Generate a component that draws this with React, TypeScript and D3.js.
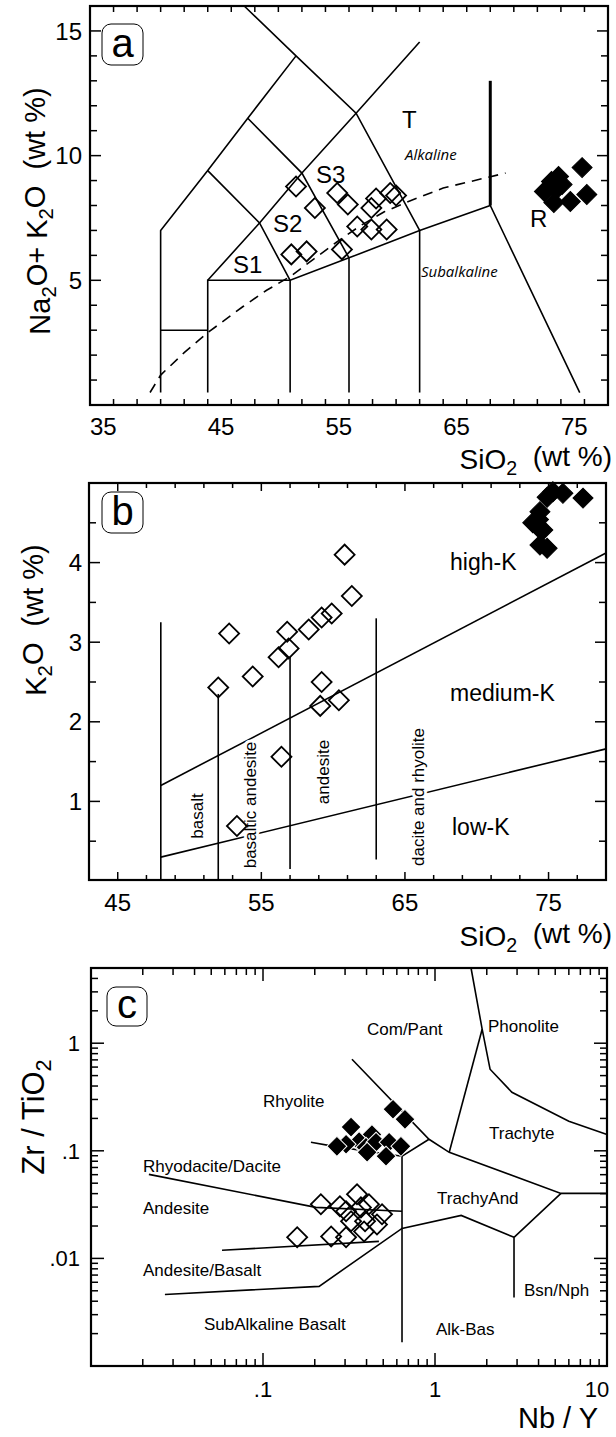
import * as d3 from "d3";

type Pt = [number, number];

const FONT = "'Liberation Sans', Arial, Helvetica, sans-serif";

// ---------- (a) total alkali vs silica ----------
const tasOpen: Pt[] = [
  [52.5, 8.76], [54.1, 7.9], [56.0, 8.5], [56.9, 8.04], [57.7, 7.16],
  [58.9, 7.04], [60.2, 7.04], [59.3, 8.28], [58.9, 7.9], [61.0, 8.4],
  [60.5, 8.5], [53.4, 6.16], [56.4, 6.24], [52.1, 6.04],
];
const tasFilled: Pt[] = [
  [76.8, 9.52], [74.8, 9.16], [74.2, 8.96], [73.6, 8.56], [74.6, 8.64],
  [74.4, 8.12], [75.8, 8.16], [77.2, 8.44], [75.1, 8.84],
];
const tasLines: Pt[][] = [
  [[41, 0.5], [41, 7], [45, 9.4], [48.4, 11.5], [52.5, 14]],
  [[48.1, 16], [52.5, 14], [57.6, 11.7], [63, 7]],
  [[45, 0.5], [45, 5], [52, 5], [57, 5.9], [63, 7], [69, 8], [76.6, 0.5]],
  [[41, 3], [45, 3]],
  [[52, 0.5], [52, 5]],
  [[57, 0.5], [57, 5.9]],
  [[63, 0.5], [63, 7]],
  [[45, 5], [49.4, 7.3], [53, 9.3], [57.6, 11.7], [63, 14.56]],
  [[45, 9.4], [49.4, 7.3], [52, 5]],
  [[48.4, 11.5], [53, 9.3], [57, 5.9]],
];
const tasThick: Pt[] = [[69, 8], [69, 13]];
const tasAlkDivide: Pt[] = [
  [40.1, 0.5], [41, 1.2], [43, 2.1], [45, 2.9], [48, 3.95], [50, 4.6],
  [52, 5.15], [54, 5.85], [56, 6.55], [58, 7.2], [60, 7.75], [62, 8.15],
  [65, 8.7], [70.3, 9.3],
];
const tasXLabels = [35, 45, 55, 65, 75];
const tasYLabels = [5, 10, 15];

// ---------- (b) K2O vs silica ----------
const kOpen: Pt[] = [
  [52.76, 3.11], [52.0, 2.43], [54.4, 2.57], [56.2, 2.81], [56.8, 3.13],
  [56.9, 2.92], [58.3, 3.16], [59.2, 3.31], [59.9, 3.36], [60.8, 4.1],
  [61.3, 3.58], [59.2, 2.5], [59.1, 2.2], [60.4, 2.27], [56.4, 1.56],
  [53.3, 0.69],
];
const kFilled: Pt[] = [
  [75.3, 4.89], [76.0, 4.87], [77.4, 4.81], [74.9, 4.82], [74.4, 4.64],
  [73.9, 4.5], [74.3, 4.44], [74.6, 4.41], [74.4, 4.22], [74.9, 4.18],
  [74.3, 4.54],
];
const kLines: Pt[][] = [
  [[48, 0], [48, 3.25]],
  [[52, 0], [52, 2.35]],
  [[57, 0.15], [57, 2.82]],
  [[63, 0.27], [63, 3.3]],
  [[48, 1.2], [79, 4.12]],
  [[48, 0.3], [79, 1.66]],
];
const kXLabels = [45, 55, 65, 75];
const kYLabels = [1, 2, 3, 4];

// ---------- (c) Zr/TiO2 vs Nb/Y ----------
const wfOpen: Pt[] = [
  [0.158, 0.0157], [0.217, 0.0318], [0.28, 0.0305], [0.352, 0.0394],
  [0.413, 0.0318], [0.325, 0.0221], [0.392, 0.0221], [0.46, 0.0207],
  [0.249, 0.016], [0.304, 0.0157], [0.387, 0.0178], [0.371, 0.0298],
  [0.492, 0.0257], [0.304, 0.0274],
];
const wfFilled: Pt[] = [
  [0.57, 0.243], [0.669, 0.196], [0.325, 0.166], [0.43, 0.142],
  [0.362, 0.122], [0.304, 0.115], [0.397, 0.108], [0.454, 0.12],
  [0.541, 0.12], [0.634, 0.11], [0.519, 0.089], [0.403, 0.097],
  [0.269, 0.11],
];
const wfLines: Pt[][] = [
  [[1.62, 5], [1.88, 1.35], [2.09, 0.573], [2.8, 0.35], [6.0, 0.188], [10, 0.142]],
  [[1.88, 1.35], [1.21, 0.0968]],
  [[0.329, 0.71], [0.923, 0.128], [1.21, 0.0968], [5.4, 0.0402], [10, 0.0402]],
  [[5.4, 0.0402], [2.88, 0.0157], [2.88, 0.00434]],
  [[2.88, 0.0157], [1.42, 0.0251], [0.643, 0.019], [0.212, 0.0055], [0.0269, 0.00462]],
  [[0.643, 0.089], [0.643, 0.00166]],
  [[0.19, 0.12], [0.259, 0.11], [0.643, 0.089], [0.923, 0.128]],
  [[0.0217, 0.0604], [0.203, 0.0298], [0.643, 0.0274]],
  [[0.0578, 0.0119], [0.472, 0.0144]],
];
const wfXLabels: [number, string][] = [[0.1, ".1"], [1, "1"], [10, "10"]];
const wfYLabels: [number, string][] = [[0.01, ".01"], [0.1, ".1"], [1, "1"]];

// scales
const xa = d3.scaleLinear().domain([35, 79]).range([90, 608]);
const ya = d3.scaleLinear().domain([0, 16]).range([405, 6]);
const xb = d3.scaleLinear().domain([43, 79]).range([89, 606]);
const yb = d3.scaleLinear().domain([0, 5]).range([881, 483]);
const xc = d3.scaleLog().domain([0.01, 10]).range([91, 607]);
const yc = d3.scaleLog().domain([0.001, 5]).range([1366, 968]);

const diamond = d3.symbol(d3.symbolSquare, 200)();

function logTicks(lo: number, hi: number): [number, boolean][] {
  const out: [number, boolean][] = [];
  for (let e = -4; e <= 2; e++)
    for (let m = 1; m <= 9; m++) {
      const v = m * Math.pow(10, e);
      if (v > lo * 1.001 && v < hi * 0.999) out.push([v, m === 1]);
    }
  return out;
}

function Frame(props: {
  l: number; r: number; t: number; b: number;
  xt: [number, number][]; yt: [number, number][];
}) {
  const { l, r, t, b, xt, yt } = props;
  return (
    <g stroke="#000" fill="none">
      {xt.map(([p, len], i) => (
        <g key={"x" + i} strokeWidth={1.5}>
          <line x1={p} x2={p} y1={b} y2={b - len} />
          <line x1={p} x2={p} y1={t} y2={t + len} />
        </g>
      ))}
      {yt.map(([p, len], i) => (
        <g key={"y" + i} strokeWidth={1.5}>
          <line x1={l} x2={l + len} y1={p} y2={p} />
          <line x1={r} x2={r - len} y1={p} y2={p} />
        </g>
      ))}
      <rect x={l} y={t} width={r - l} height={b - t} strokeWidth={2.2} />
    </g>
  );
}

function Marks(props: { pts: Pt[]; x: (v: number) => number; y: (v: number) => number; filled?: boolean; edge?: string }) {
  const { pts, x, y, filled, edge } = props;
  return (
    <g>
      {pts.map((d, i) => (
        <path
          key={i}
          d={diamond}
          transform={`translate(${x(d[0])},${y(d[1])}) rotate(45)`}
          fill={filled ? "#000" : "none"}
          stroke={filled ? edge || "#000" : "#000"}
          strokeWidth={filled ? 1 : 1.8}
        />
      ))}
    </g>
  );
}

function Tag({ x, y, w, h, t }: { x: number; y: number; w: number; h: number; t: string }) {
  return (
    <g>
      <rect x={x} y={y} width={w} height={h} rx={9} fill="#fff" stroke="#000" strokeWidth={1} />
      <text x={x + w / 2} y={y + h - 8} textAnchor="middle" fontSize={40}>{t}</text>
    </g>
  );
}

function Sub({ children }: { children: string }) {
  return <tspan fontSize="0.7em" dy="0.3em">{children}</tspan>;
}

export default function App() {
  const la = d3.line<Pt>().x(d => xa(d[0])).y(d => ya(d[1]));
  const lb = d3.line<Pt>().x(d => xb(d[0])).y(d => yb(d[1]));
  const lc = d3.line<Pt>().x(d => xc(d[0])).y(d => yc(d[1]));

  const aXT: [number, number][] = d3.range(37, 79, 2).map(v => [xa(v), 6]);
  const aYT: [number, number][] = d3.range(1, 16).map(v => [ya(v), v % 5 === 0 ? 11 : 7]);
  const bXT: [number, number][] = d3.range(45, 79, 2).map(v => [xb(v), (v - 45) % 10 === 0 ? 8 : 5]);
  const bYT: [number, number][] = d3.range(0.5, 5, 0.5).map(v => [yb(v), v % 1 === 0 ? 11 : 7]);
  const cXT: [number, number][] = logTicks(0.01, 10).map(([v, m]) => [xc(v), m ? 13 : 7]);
  const cYT: [number, number][] = logTicks(0.001, 5).map(([v, m]) => [yc(v), m ? 13 : 7]);

  return (
    <svg
      width={616}
      height={1437}
      viewBox="0 0 616 1437"
      style={{ position: "absolute", left: 0, top: 0, background: "#fff" }}
      fontFamily={FONT}
    >
      {/* ---------------- panel a ---------------- */}
      <g fill="none" stroke="#000">
        {tasLines.map((d, i) => (
          <path key={i} d={la(d) || ""} strokeWidth={1.6} />
        ))}
        <path d={la(tasThick) || ""} strokeWidth={3} />
        <path d={la(tasAlkDivide) || ""} strokeWidth={1.6} strokeDasharray="10,7" />
      </g>
      <Frame l={90} r={608} t={6} b={405} xt={aXT} yt={aYT} />
      <Marks pts={tasOpen} x={xa} y={ya} />
      <Marks pts={tasFilled} x={xa} y={ya} filled />
      <Tag x={102} y={24} w={41} h={41} t="a" />
      <g fontSize={24}>
        <text x={402} y={128}>T</text>
        <text x={316} y={183}>S3</text>
        <text x={273} y={232}>S2</text>
        <text x={233} y={273}>S1</text>
        <text x={530} y={227}>R</text>
      </g>
      <g fontSize={15} fontStyle="italic" fontFamily="'Open Sans', sans-serif">
        <text x={405} y={160}>Alkaline</text>
        <text x={421} y={277}>Subalkaline</text>
      </g>
      <g fontSize={24}>
        {tasXLabels.map(v => (
          <text key={v} x={xa(v)} y={435}>{v}</text>
        ))}
        {tasYLabels.map(v => (
          <text key={v} x={82} y={ya(v)} dy="0.36em" textAnchor="end">{v}</text>
        ))}
      </g>
      <text x={612} y={469} textAnchor="end" fontSize={28} style={{ whiteSpace: "pre" }}>
        SiO<Sub>2</Sub><tspan dy="-0.3em">{"  (wt %)"}</tspan>
      </text>
      <text transform="translate(50,211) rotate(-90)" textAnchor="middle" fontSize={29} style={{ whiteSpace: "pre" }}>
        Na<Sub>2</Sub><tspan dy="-0.3em">O+ K</tspan><Sub>2</Sub><tspan dy="-0.3em">{"O  (wt %)"}</tspan>
      </text>

      {/* ---------------- panel b ---------------- */}
      <g fill="none" stroke="#000">
        {kLines.map((d, i) => (
          <path key={i} d={lb(d) || ""} strokeWidth={1.6} />
        ))}
      </g>
      <Frame l={89} r={606} t={483} b={880} xt={bXT} yt={bYT} />
      <g fontSize={17}>
        <text transform="translate(203,816) rotate(-90)" textAnchor="middle">basalt</text>
        <text transform="translate(256,805) rotate(-90)" textAnchor="middle" stroke="#fff" strokeWidth={6} style={{ paintOrder: "stroke" }}>basaltic andesite</text>
        <text transform="translate(329,772) rotate(-90)" textAnchor="middle">andesite</text>
        <text transform="translate(424,797) rotate(-90)" textAnchor="middle" stroke="#fff" strokeWidth={6} style={{ paintOrder: "stroke" }}>dacite and rhyolite</text>
      </g>
      <Marks pts={kOpen} x={xb} y={yb} />
      <Marks pts={kFilled} x={xb} y={yb} filled />
      <Tag x={102} y={492} w={41} h={41} t="b" />
      <g fontSize={23}>
        <text x={450} y={570}>high-K</text>
        <text x={450} y={701}>medium-K</text>
        <text x={452} y={835}>low-K</text>
      </g>
      <g fontSize={24}>
        {kXLabels.map(v => (
          <text key={v} x={xb(v)} y={911} textAnchor="middle">{v}</text>
        ))}
        {kYLabels.map(v => (
          <text key={v} x={82} y={yb(v)} dy="0.36em" textAnchor="end">{v}</text>
        ))}
      </g>
      <text x={612} y={946} textAnchor="end" fontSize={28} style={{ whiteSpace: "pre" }}>
        SiO<Sub>2</Sub><tspan dy="-0.3em">{"  (wt %)"}</tspan>
      </text>
      <text transform="translate(46,620) rotate(-90)" textAnchor="middle" fontSize={29} style={{ whiteSpace: "pre" }}>
        K<Sub>2</Sub><tspan dy="-0.3em">{"O  (wt %)"}</tspan>
      </text>

      {/* ---------------- panel c ---------------- */}
      <g fill="none" stroke="#000">
        {wfLines.map((d, i) => (
          <path key={i} d={lc(d) || ""} strokeWidth={1.6} />
        ))}
      </g>
      <Frame l={91} r={607} t={968} b={1366} xt={cXT} yt={cYT} />
      <Marks pts={wfOpen} x={xc} y={yc} />
      <Marks pts={wfFilled} x={xc} y={yc} filled edge="#fff" />
      <Tag x={107} y={987} w={40} h={39} t="c" />
      <g fontSize={17}>
        <text x={367} y={1035}>Com/Pant</text>
        <text x={488} y={1032}>Phonolite</text>
        <text x={263} y={1107}>Rhyolite</text>
        <text x={489} y={1139}>Trachyte</text>
        <text x={143} y={1172}>Rhyodacite/Dacite</text>
        <text x={143} y={1214}>Andesite</text>
        <text x={437} y={1204}>TrachyAnd</text>
        <text x={143} y={1276}>Andesite/Basalt</text>
        <text x={524} y={1296}>Bsn/Nph</text>
        <text x={204} y={1330}>SubAlkaline Basalt</text>
        <text x={436} y={1335}>Alk-Bas</text>
      </g>
      <g fontSize={22}>
        {wfXLabels.map(([v, s]) => (
          <text key={s} x={Math.min(xc(v), 597)} y={1397} textAnchor="middle">{s}</text>
        ))}
        {wfYLabels.map(([v, s]) => (
          <text key={s} x={80} y={yc(v)} dy="0.36em" textAnchor="end">{s}</text>
        ))}
      </g>
      <text x={598} y={1428} textAnchor="end" fontSize={29} style={{ whiteSpace: "pre" }}>
        Nb / Y
      </text>
      <text transform="translate(44,1117) rotate(-90)" textAnchor="middle" fontSize={31} style={{ whiteSpace: "pre" }}>
        Zr / TiO<Sub>2</Sub>
      </text>
    </svg>
  );
}
